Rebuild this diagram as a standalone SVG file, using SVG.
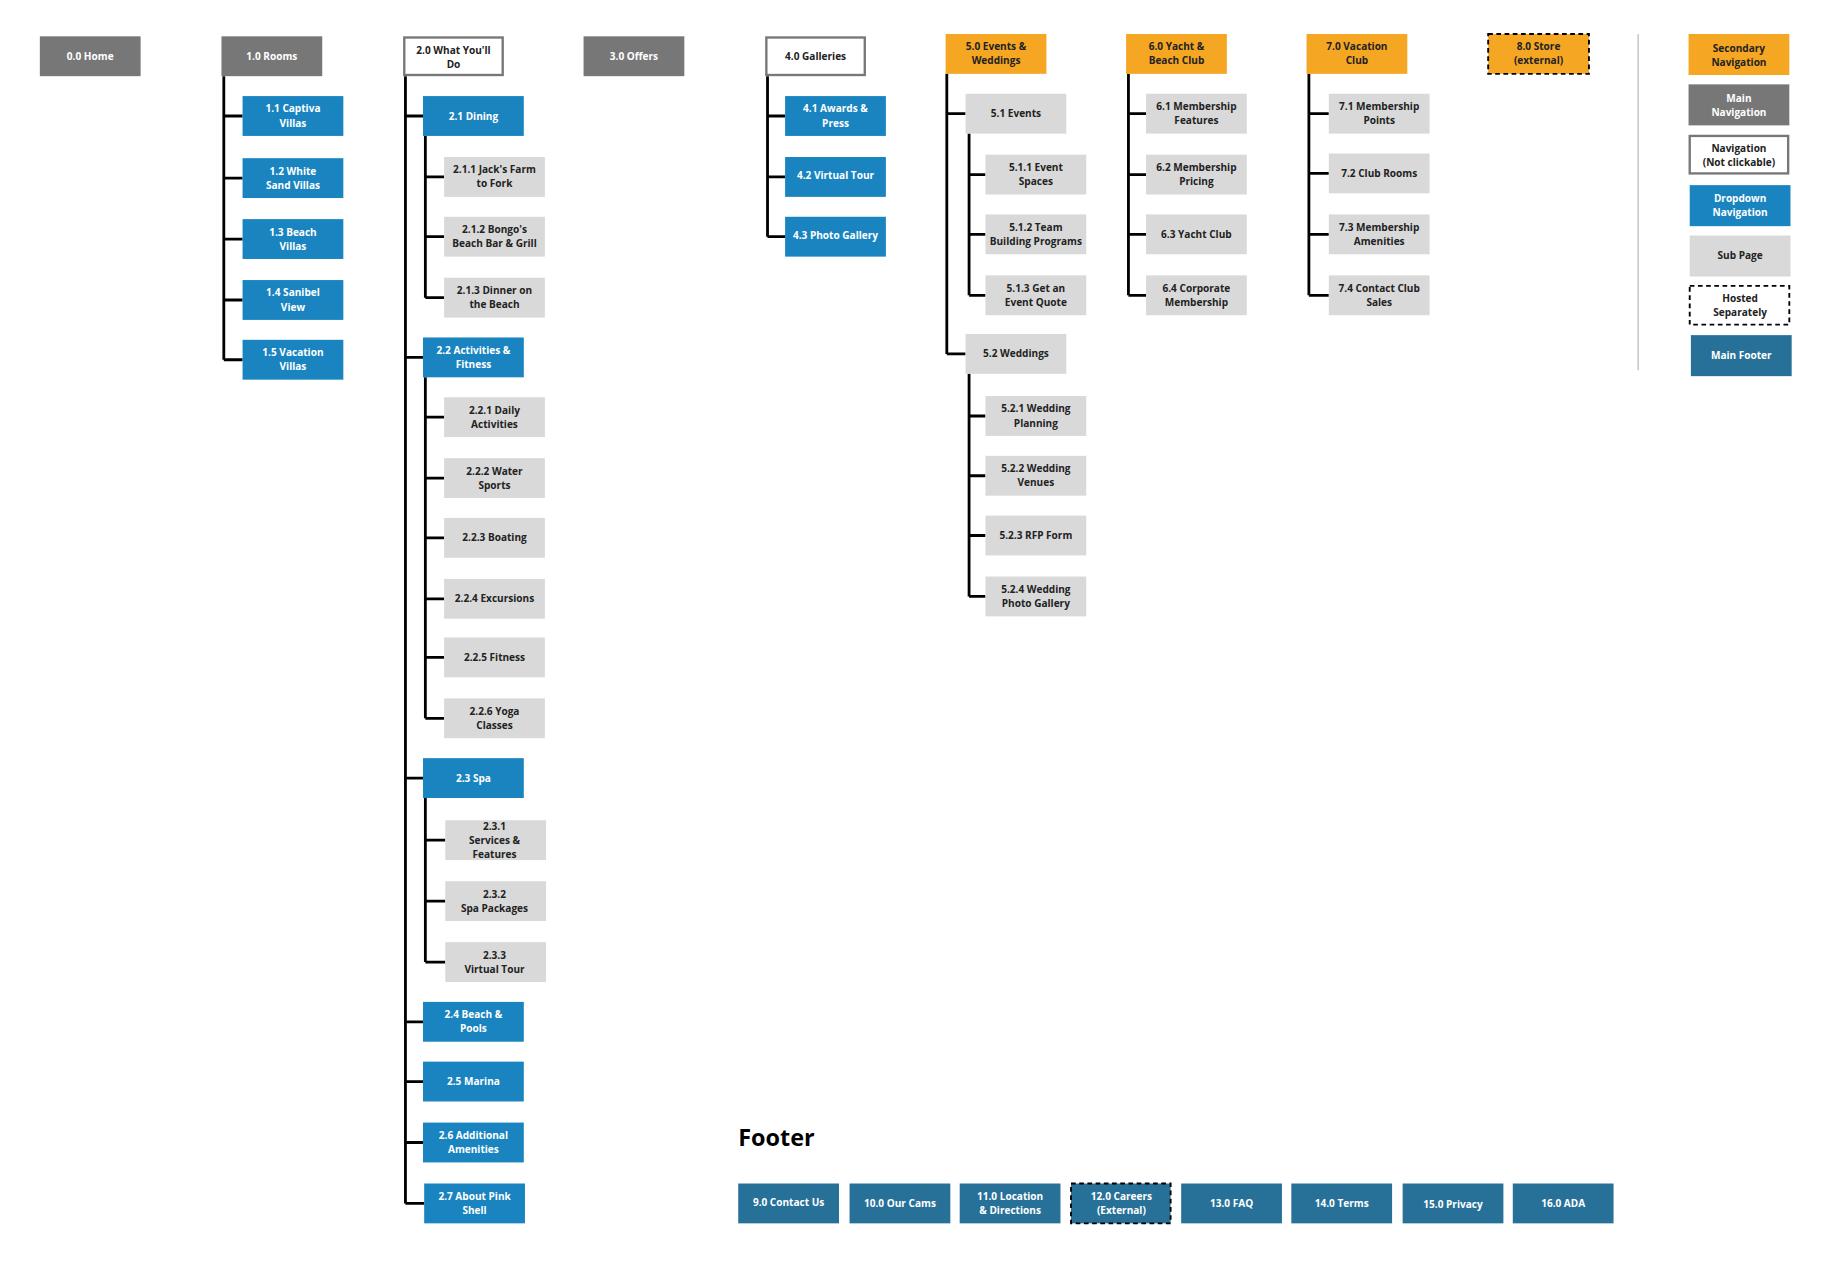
<svg xmlns="http://www.w3.org/2000/svg" width="1828" height="1261" viewBox="0 0 1828 1261">
<style>
rect{stroke:none}
.g{fill:#777777}.b{fill:#1984bf}.s{fill:#d9d9d9}.o{fill:#f5a623}.f{fill:#277199}
.n{fill:#fff;stroke:#777;stroke-width:2}
.d{stroke:#000;stroke-width:1.6;stroke-dasharray:4 3}
text{font-family:"Open Sans","DejaVu Sans",sans-serif;font-weight:bold;font-size:8.6px;text-anchor:middle}
.tw{fill:#fff}.tk{fill:#222}
#conn path{fill:none;stroke:#000;stroke-width:2.4}
</style>
<rect width="1828" height="1261" fill="#fff"/>
<g transform="scale(1.17179)">
<g id="conn">
<path d="M191 65V307M191 99H207M191 152H207M191 204H207M191 256H207M191 307H207"/>
<path d="M346 65V1027M346 99H361M346 305H361M346 664H361M346 872H361M346 923H361M346 975H361M346 1027H362"/>
<path d="M363 116V254M363 151H379M363 202H379M363 254H379"/>
<path d="M363 322V613M363 356H379M363 408H379M363 459H379M363 511H379M363 561H379M363 613H379"/>
<path d="M363 681V821M363 717H380M363 769H380M363 821H380"/>
<path d="M655 65V202M655 99H670M655 151H670M655 202H670"/>
<path d="M808 63V302M808 97H824M808 302H824"/>
<path d="M827 114V252M827 149H841M827 200H841M827 252H841"/>
<path d="M827 319V509M827 355H841M827 406H841M827 457H841M827 509H841"/>
<path d="M963 63V252M963 97H978M963 149H978M963 200H978M963 252H978"/>
<path d="M1117 63V252M1117 97H1134M1117 148H1134M1117 200H1134M1117 252H1134"/>
</g>
<line x1="1398" y1="29" x2="1398" y2="316" stroke="#ccc" stroke-width="1.5"/>

<g id="n0"><rect class="g" x="34" y="31" width="86" height="34"/><text class="tw" x="77" y="51">0.0 Home</text></g>
<g id="n1"><rect class="g" x="189" y="31" width="86" height="34"/><text class="tw" x="232" y="51">1.0 Rooms</text></g>
<g id="n2"><rect class="n" x="345" y="32" width="84" height="32"/><text class="tk" x="387" y="46">2.0 What You'll</text><text class="tk" x="387" y="58">Do</text></g>
<g id="n3"><rect class="g" x="498" y="31" width="86" height="34"/><text class="tw" x="541" y="51">3.0 Offers</text></g>
<g id="n4"><rect class="n" x="654" y="32" width="84" height="32"/><text class="tk" x="696" y="51">4.0 Galleries</text></g>
<g id="n5"><rect class="o" x="807" y="29" width="86" height="34"/><text class="tk" x="850" y="43">5.0 Events &amp;</text><text class="tk" x="850" y="55">Weddings</text></g>
<g id="n6"><rect class="o" x="961" y="29" width="86" height="34"/><text class="tk" x="1004" y="43">6.0 Yacht &amp;</text><text class="tk" x="1004" y="55">Beach Club</text></g>
<g id="n7"><rect class="o" x="1115" y="29" width="86" height="34"/><text class="tk" x="1158" y="43">7.0 Vacation</text><text class="tk" x="1158" y="55">Club</text></g>
<g id="n8"><rect class="o d" x="1270" y="29" width="86" height="34"/><text class="tk" x="1313" y="43">8.0 Store</text><text class="tk" x="1313" y="55">(external)</text></g>

<g id="n1-1"><rect class="b" x="207" y="82" width="86" height="34"/><text class="tw" x="250" y="96">1.1 Captiva</text><text class="tw" x="250" y="108">Villas</text></g>
<g id="n1-2"><rect class="b" x="207" y="135" width="86" height="34"/><text class="tw" x="250" y="149">1.2 White</text><text class="tw" x="250" y="161">Sand Villas</text></g>
<g id="n1-3"><rect class="b" x="207" y="187" width="86" height="34"/><text class="tw" x="250" y="201">1.3 Beach</text><text class="tw" x="250" y="213">Villas</text></g>
<g id="n1-4"><rect class="b" x="207" y="239" width="86" height="34"/><text class="tw" x="250" y="253">1.4 Sanibel</text><text class="tw" x="250" y="265">View</text></g>
<g id="n1-5"><rect class="b" x="207" y="290" width="86" height="34"/><text class="tw" x="250" y="304">1.5 Vacation</text><text class="tw" x="250" y="316">Villas</text></g>

<g id="n2-1"><rect class="b" x="361" y="82" width="86" height="34"/><text class="tw" x="404" y="102">2.1 Dining</text></g>
<g id="n2-1-1"><rect class="s" x="379" y="134" width="86" height="34"/><text class="tk" x="422" y="148">2.1.1 Jack's Farm</text><text class="tk" x="422" y="160">to Fork</text></g>
<g id="n2-1-2"><rect class="s" x="379" y="185" width="86" height="34"/><text class="tk" x="422" y="199">2.1.2 Bongo's</text><text class="tk" x="422" y="211">Beach Bar &amp; Grill</text></g>
<g id="n2-1-3"><rect class="s" x="379" y="237" width="86" height="34"/><text class="tk" x="422" y="251">2.1.3 Dinner on</text><text class="tk" x="422" y="263">the Beach</text></g>
<g id="n2-2"><rect class="b" x="361" y="288" width="86" height="34"/><text class="tw" x="404" y="302">2.2 Activities &amp;</text><text class="tw" x="404" y="314">Fitness</text></g>
<g id="n2-2-1"><rect class="s" x="379" y="339" width="86" height="34"/><text class="tk" x="422" y="353">2.2.1 Daily</text><text class="tk" x="422" y="365">Activities</text></g>
<g id="n2-2-2"><rect class="s" x="379" y="391" width="86" height="34"/><text class="tk" x="422" y="405">2.2.2 Water</text><text class="tk" x="422" y="417">Sports</text></g>
<g id="n2-2-3"><rect class="s" x="379" y="442" width="86" height="34"/><text class="tk" x="422" y="462">2.2.3 Boating</text></g>
<g id="n2-2-4"><rect class="s" x="379" y="494" width="86" height="34"/><text class="tk" x="422" y="514">2.2.4 Excursions</text></g>
<g id="n2-2-5"><rect class="s" x="379" y="544" width="86" height="34"/><text class="tk" x="422" y="564">2.2.5 Fitness</text></g>
<g id="n2-2-6"><rect class="s" x="379" y="596" width="86" height="34"/><text class="tk" x="422" y="610">2.2.6 Yoga</text><text class="tk" x="422" y="622">Classes</text></g>
<g id="n2-3"><rect class="b" x="361" y="647" width="86" height="34"/><text class="tw" x="404" y="667">2.3 Spa</text></g>
<g id="n2-3-1"><rect class="s" x="380" y="700" width="86" height="34"/><text class="tk" x="422" y="708">2.3.1</text><text class="tk" x="422" y="720">Services &amp;</text><text class="tk" x="422" y="732">Features</text></g>
<g id="n2-3-2"><rect class="s" x="380" y="752" width="86" height="34"/><text class="tk" x="422" y="766">2.3.2</text><text class="tk" x="422" y="778">Spa Packages</text></g>
<g id="n2-3-3"><rect class="s" x="380" y="804" width="86" height="34"/><text class="tk" x="422" y="818">2.3.3</text><text class="tk" x="422" y="830">Virtual Tour</text></g>
<g id="n2-4"><rect class="b" x="361" y="855" width="86" height="34"/><text class="tw" x="404" y="869">2.4 Beach &amp;</text><text class="tw" x="404" y="881">Pools</text></g>
<g id="n2-5"><rect class="b" x="361" y="906" width="86" height="34"/><text class="tw" x="404" y="926">2.5 Marina</text></g>
<g id="n2-6"><rect class="b" x="361" y="958" width="86" height="34"/><text class="tw" x="404" y="972">2.6 Additional</text><text class="tw" x="404" y="984">Amenities</text></g>
<g id="n2-7"><rect class="b" x="362" y="1010" width="86" height="34"/><text class="tw" x="405" y="1024">2.7 About Pink</text><text class="tw" x="405" y="1036">Shell</text></g>

<g id="n4-1"><rect class="b" x="670" y="82" width="86" height="34"/><text class="tw" x="713" y="96">4.1 Awards &amp;</text><text class="tw" x="713" y="108">Press</text></g>
<g id="n4-2"><rect class="b" x="670" y="134" width="86" height="34"/><text class="tw" x="713" y="153">4.2 Virtual Tour</text></g>
<g id="n4-3"><rect class="b" x="670" y="185" width="86" height="34"/><text class="tw" x="713" y="204">4.3 Photo Gallery</text></g>

<g id="n5-1"><rect class="s" x="824" y="80" width="86" height="34"/><text class="tk" x="867" y="100">5.1 Events</text></g>
<g id="n5-1-1"><rect class="s" x="841" y="132" width="86" height="34"/><text class="tk" x="884" y="146">5.1.1 Event</text><text class="tk" x="884" y="158">Spaces</text></g>
<g id="n5-1-2"><rect class="s" x="841" y="183" width="86" height="34"/><text class="tk" x="884" y="197">5.1.2 Team</text><text class="tk" x="884" y="209">Building Programs</text></g>
<g id="n5-1-3"><rect class="s" x="841" y="235" width="86" height="34"/><text class="tk" x="884" y="249">5.1.3 Get an</text><text class="tk" x="884" y="261">Event Quote</text></g>
<g id="n5-2"><rect class="s" x="824" y="285" width="86" height="34"/><text class="tk" x="867" y="305">5.2 Weddings</text></g>
<g id="n5-2-1"><rect class="s" x="841" y="338" width="86" height="34"/><text class="tk" x="884" y="352">5.2.1 Wedding</text><text class="tk" x="884" y="364">Planning</text></g>
<g id="n5-2-2"><rect class="s" x="841" y="389" width="86" height="34"/><text class="tk" x="884" y="403">5.2.2 Wedding</text><text class="tk" x="884" y="415">Venues</text></g>
<g id="n5-2-3"><rect class="s" x="841" y="440" width="86" height="34"/><text class="tk" x="884" y="460">5.2.3 RFP Form</text></g>
<g id="n5-2-4"><rect class="s" x="841" y="492" width="86" height="34"/><text class="tk" x="884" y="506">5.2.4 Wedding</text><text class="tk" x="884" y="518">Photo Gallery</text></g>

<g id="n6-1"><rect class="s" x="978" y="80" width="86" height="34"/><text class="tk" x="1021" y="94">6.1 Membership</text><text class="tk" x="1021" y="106">Features</text></g>
<g id="n6-2"><rect class="s" x="978" y="132" width="86" height="34"/><text class="tk" x="1021" y="146">6.2 Membership</text><text class="tk" x="1021" y="158">Pricing</text></g>
<g id="n6-3"><rect class="s" x="978" y="183" width="86" height="34"/><text class="tk" x="1021" y="203">6.3 Yacht Club</text></g>
<g id="n6-4"><rect class="s" x="978" y="235" width="86" height="34"/><text class="tk" x="1021" y="249">6.4 Corporate</text><text class="tk" x="1021" y="261">Membership</text></g>

<g id="n7-1"><rect class="s" x="1134" y="80" width="86" height="34"/><text class="tk" x="1177" y="94">7.1 Membership</text><text class="tk" x="1177" y="106">Points</text></g>
<g id="n7-2"><rect class="s" x="1134" y="131" width="86" height="34"/><text class="tk" x="1177" y="151">7.2 Club Rooms</text></g>
<g id="n7-3"><rect class="s" x="1134" y="183" width="86" height="34"/><text class="tk" x="1177" y="197">7.3 Membership</text><text class="tk" x="1177" y="209">Amenities</text></g>
<g id="n7-4"><rect class="s" x="1134" y="235" width="86" height="34"/><text class="tk" x="1177" y="249">7.4 Contact Club</text><text class="tk" x="1177" y="261">Sales</text></g>

<g id="legend">
<rect class="o" x="1441" y="29" width="86" height="35"/><text class="tk" x="1484" y="44">Secondary</text><text class="tk" x="1484" y="56">Navigation</text>
<rect class="g" x="1441" y="72" width="86" height="35"/><text class="tw" x="1484" y="87">Main</text><text class="tw" x="1484" y="99">Navigation</text>
<rect class="n" x="1442" y="116" width="84" height="32"/><text class="tk" x="1484" y="130">Navigation</text><text class="tk" x="1484" y="142">(Not clickable)</text>
<rect class="b" x="1442" y="158" width="86" height="35"/><text class="tw" x="1485" y="172">Dropdown</text><text class="tw" x="1485" y="184">Navigation</text>
<rect class="s" x="1442" y="201" width="86" height="35"/><text class="tk" x="1485" y="221">Sub Page</text>
<rect fill="#fff" class="d" x="1442" y="244" width="85" height="33"/><text class="tk" x="1485" y="258">Hosted</text><text class="tk" x="1485" y="270">Separately</text>
<rect class="f" x="1443" y="286" width="86" height="35"/><text class="tw" x="1486" y="306">Main Footer</text>
</g>

<text x="630" y="978" style="font-size:20px;text-anchor:start;fill:#000">Footer</text>
<g id="f9"><rect class="f" x="630" y="1010" width="86" height="34"/><text class="tw" x="673" y="1029">9.0 Contact Us</text></g>
<g id="f10"><rect class="f" x="725" y="1010" width="86" height="34"/><text class="tw" x="768" y="1030">10.0 Our Cams</text></g>
<g id="f11"><rect class="f" x="819" y="1010" width="86" height="34"/><text class="tw" x="862" y="1024">11.0 Location</text><text class="tw" x="862" y="1036">&amp; Directions</text></g>
<g id="f12"><rect class="f d" x="914" y="1010" width="85" height="34"/><text class="tw" x="957" y="1024">12.0 Careers</text><text class="tw" x="957" y="1036">(External)</text></g>
<g id="f13"><rect class="f" x="1008" y="1010" width="86" height="34"/><text class="tw" x="1051" y="1030">13.0 FAQ</text></g>
<g id="f14"><rect class="f" x="1102" y="1010" width="86" height="34"/><text class="tw" x="1145" y="1030">14.0 Terms</text></g>
<g id="f15"><rect class="f" x="1197" y="1010" width="86" height="34"/><text class="tw" x="1240" y="1031">15.0 Privacy</text></g>
<g id="f16"><rect class="f" x="1291" y="1010" width="86" height="34"/><text class="tw" x="1334" y="1030">16.0 ADA</text></g>
</g>
</svg>
